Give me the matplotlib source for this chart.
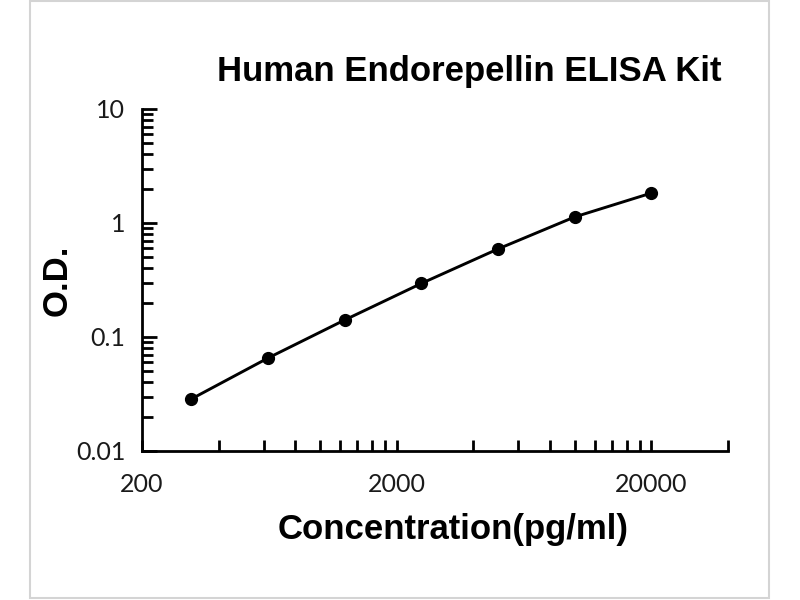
import matplotlib
matplotlib.use("Agg")
import matplotlib.pyplot as plt
from matplotlib.patches import Rectangle
from matplotlib.ticker import FixedLocator, NullFormatter
import numpy as np

# standard curve
conc = [312.5, 625, 1250, 2500, 5000, 10000, 20000]
od = [0.0286, 0.0654, 0.141, 0.295, 0.592, 1.13, 1.83]

x_major = [200, 2000, 20000]
x_minor = [400, 600, 800, 1000, 1200, 1400, 1600, 1800,
           4000, 6000, 8000, 10000, 12000, 14000, 16000, 18000, 40000]
y_major = [0.01, 0.1, 1, 10]
y_labels = ["0.01", "0.1", "1", "10"]

title = "Human Endorepellin ELISA Kit"
xlabel = "Concentration(pg/ml)"
ylabel = "O.D."

fig = plt.figure(figsize=(8, 6), dpi=100)
fig.patches.append(Rectangle((30/800, 2/600), 739/800, 597/600, transform=fig.transFigure,
                             fill=False, edgecolor="#d4d4d4", linewidth=1.5))

ax = fig.add_axes([142/800, 1 - 451/600, 586/800, 342/600])
ax.set_xscale("log")
ax.set_yscale("log")
ax.plot(conc, od, color="black", linewidth=2.1, marker="o", markersize=8.5, zorder=3)

ax.set_xlim(200, 40000)
ax.set_ylim(0.01, 10)

ax.xaxis.set_major_locator(FixedLocator(x_major))
ax.xaxis.set_minor_locator(FixedLocator(x_minor))
ax.set_xticklabels([str(v) for v in x_major])
ax.xaxis.set_minor_formatter(NullFormatter())
ax.yaxis.set_major_locator(FixedLocator(y_major))
ax.set_yticklabels(y_labels)
ax.yaxis.set_minor_formatter(NullFormatter())

for s in ["top", "right"]:
    ax.spines[s].set_visible(False)
for s in ["left", "bottom"]:
    ax.spines[s].set_linewidth(2)

ax.tick_params(axis="both", which="both", direction="in", width=2, colors="black")
ax.tick_params(axis="y", which="major", length=11, pad=12)
ax.tick_params(axis="y", which="minor", length=8)
ax.tick_params(axis="x", which="both", length=8, pad=16)
for lab in ax.get_xticklabels() + ax.get_yticklabels():
    lab.set_fontfamily("Lato")
    lab.set_fontsize(18)
    lab.set_color("#1a1a1a")

fig.text(469/800, 1 - 72/600, title, ha="center", va="center",
         fontsize=25, fontweight="bold", family="Liberation Sans")
fig.text(453/800, 1 - 530/600, xlabel, ha="center", va="center",
         fontsize=25, fontweight="bold", family="Liberation Sans")
fig.text(57/800, 1 - 280/600, ylabel, ha="center", va="center", rotation=90,
         fontsize=25, fontweight="bold", family="Liberation Sans")

fig.savefig("out.png", dpi=100)
